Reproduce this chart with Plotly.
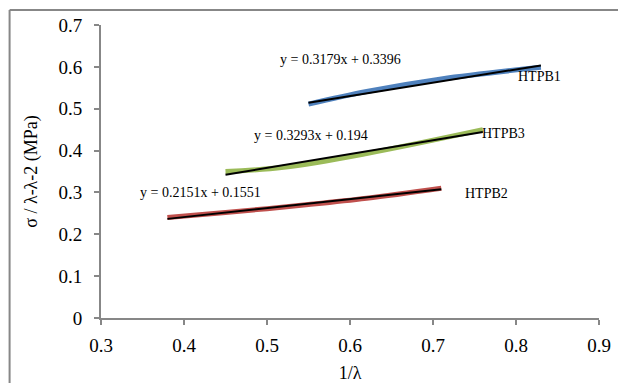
import plotly.graph_objects as go

# Data
htpb1_x = [0.55, 0.62, 0.71, 0.83]
htpb1_y = [0.511, 0.541, 0.571, 0.599]
htpb3_x = [0.45, 0.52, 0.62, 0.76]
htpb3_y = [0.350, 0.360, 0.393, 0.450]
htpb2_x = [0.38, 0.45, 0.55, 0.62, 0.71]
htpb2_y = [0.240, 0.252, 0.271, 0.286, 0.310]

# Linear trend lines (endpoints, from the printed equations)
trend1_x = [0.55, 0.83]
trend1_y = [0.5144, 0.6035]
trend3_x = [0.45, 0.76]
trend3_y = [0.3422, 0.4443]
trend2_x = [0.38, 0.71]
trend2_y = [0.2368, 0.3078]

eq_labels = ["y = 0.3179x + 0.3396", "y = 0.3293x + 0.194", "y = 0.2151x + 0.1551"]
series_names = ["HTPB1", "HTPB3", "HTPB2"]

W, H = 618, 383
L, R, T, B = 100.5, 19, 25, 64.7
PW = W - L - R
PH = H - T - B

def px2x(px):
    return 0.3 + (px - L) / PW * 0.6

def py2y(py):
    return (H - B - py) / PH * 0.7

fig = go.Figure()
for x, y, c in [(htpb1_x, htpb1_y, "#4F81BD"), (htpb3_x, htpb3_y, "#9BBB59"), (htpb2_x, htpb2_y, "#C0504D")]:
    fig.add_trace(go.Scatter(x=x, y=y, mode="lines", line=dict(color=c, width=5, shape="spline"),
                             showlegend=False, hoverinfo="skip"))
for x, y in [(trend1_x, trend1_y), (trend3_x, trend3_y), (trend2_x, trend2_y)]:
    fig.add_trace(go.Scatter(x=x, y=y, mode="lines", line=dict(color="black", width=2),
                             showlegend=False, hoverinfo="skip"))

font_serif = "Liberation Serif"
ann_font = dict(family=font_serif, size=14, color="black")
eq_pos = [(278, 60), (252, 136), (138, 193)]
name_pos = [(516, 77), (480, 134), (463, 194)]
for txt, (px, py) in zip(eq_labels, eq_pos):
    fig.add_annotation(x=px2x(px), y=py2y(py), text=txt, showarrow=False, xanchor="left",
                       yanchor="middle", font=ann_font)
for txt, (px, py) in zip(series_names, name_pos):
    fig.add_annotation(x=px2x(px), y=py2y(py), text=txt, showarrow=False, xanchor="left",
                       yanchor="middle", font=ann_font)

gray = "#878787"
axis_common = dict(showgrid=False, zeroline=False, showline=True, linecolor=gray, linewidth=2,
                   ticks="outside", ticklen=5, tickcolor=gray, tickwidth=2, automargin=False,
                   tickfont=dict(family=font_serif, size=19, color="black"))
fig.update_xaxes(range=[0.3, 0.9], tickvals=[0.3, 0.4, 0.5, 0.6, 0.7, 0.8, 0.9],
                 ticktext=["0.3", "0.4", "0.5", "0.6", "0.7", "0.8", "0.9"],
                 ticklabelstandoff=4,
                 title=dict(text="1/λ", font=dict(family=font_serif, size=18, color="black"), standoff=16),
                 **axis_common)
fig.update_yaxes(range=[0, 0.7], tickvals=[0, 0.1, 0.2, 0.3, 0.4, 0.5, 0.6, 0.7],
                 ticktext=["0", "0.1", "0.2", "0.3", "0.4", "0.5", "0.6", "0.7"],
                 ticklabelstandoff=8,
                 title=dict(text="σ / λ-λ-2 (MPa)", font=dict(family=font_serif, size=18, color="black"), standoff=16),
                 **axis_common)

def paper_x(px):
    return (px - L) / PW

def paper_y(py):
    return (H - B - py) / PH

fig.add_shape(type="line", xref="paper", yref="paper", x0=paper_x(9), x1=paper_x(640),
              y0=paper_y(10), y1=paper_y(10), line=dict(color=gray, width=2))
fig.add_shape(type="line", xref="paper", yref="paper", x0=paper_x(9), x1=paper_x(9),
              y0=paper_y(10), y1=paper_y(400), line=dict(color=gray, width=2))

fig.update_layout(width=W, height=H, margin=dict(l=L, r=R, t=T, b=B, autoexpand=False),
                  plot_bgcolor="white", paper_bgcolor="white")
fig.write_html("out.html")
